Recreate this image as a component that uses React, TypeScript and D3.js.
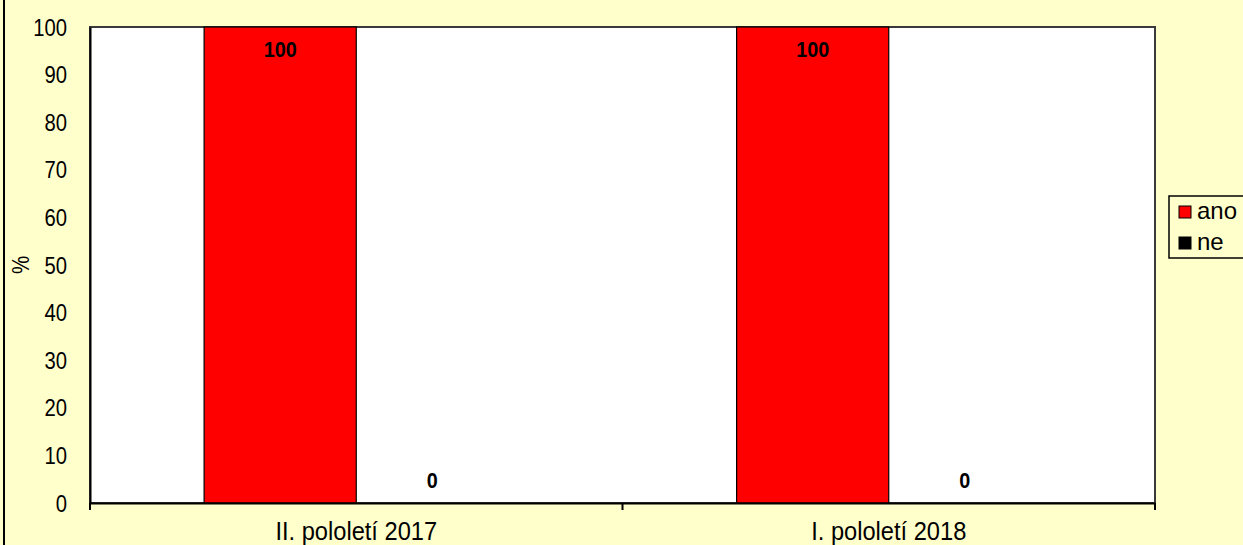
import React, { useEffect, useRef } from 'react';
import * as d3 from 'd3';

const WIDTH = 1243;
const HEIGHT = 545;

const categories = ['II. pololetí 2017', 'I. pololetí 2018'];
const seriesNames = ['ano', 'ne'];
const seriesColors = ['#FF0000', '#000000'];
const anoValues = [100, 100];
const neValues = [0, 0];
const yTicks = [0, 10, 20, 30, 40, 50, 60, 70, 80, 90, 100];

const App = () => {
  const ref = useRef<SVGSVGElement>(null);

  useEffect(() => {
    const svg = d3.select(ref.current);
    svg.selectAll('*').remove();

    const font = 'Arial, "Liberation Sans", sans-serif';
    const plot = { left: 90, top: 27, right: 1155, bottom: 503 };

    // background + outer chart border (only the left edge is in view)
    svg.append('rect').attr('width', WIDTH).attr('height', HEIGHT).attr('fill', '#FFFFCC');
    svg.append('rect')
      .attr('x', 4).attr('y', -60).attr('width', 1400).attr('height', 700)
      .attr('fill', 'none').attr('stroke', '#000').attr('stroke-width', 2);

    svg.append('rect')
      .attr('x', plot.left).attr('y', plot.top)
      .attr('width', plot.right - plot.left).attr('height', plot.bottom - plot.top)
      .attr('fill', '#fff').attr('stroke', '#3a3a3a').attr('stroke-width', 2);

    const x0 = d3.scaleBand().domain(categories).range([plot.left, plot.right]).padding(0);
    const x1 = d3.scaleBand().domain(seriesNames).range([0, x0.bandwidth()])
      .paddingOuter(0.75).paddingInner(0);
    const y = d3.scaleLinear().domain([0, 100]).range([plot.bottom, plot.top]);

    const rows = categories.map((c, i) => ({ cat: c, values: [anoValues[i], neValues[i]] }));

    const groups = svg.selectAll('.grp').data(rows).enter().append('g')
      .attr('transform', (d) => `translate(${x0(d.cat)},0)`);

    groups.selectAll('rect').data((d) => d.values.map((v, j) => ({ v, j }))).enter()
      .append('rect')
      .attr('x', (d) => x1(seriesNames[d.j])!)
      .attr('y', (d) => y(d.v))
      .attr('width', x1.bandwidth())
      .attr('height', (d) => plot.bottom - y(d.v))
      .attr('fill', (d) => seriesColors[d.j])
      .attr('stroke', '#000').attr('stroke-width', 1.2);

    // the original text is a bit narrow for its height
    const sxVal = 0.9;
    groups.selectAll('text').data((d) => d.values.map((v, j) => ({ v, j }))).enter()
      .append('text')
      .attr('transform', `scale(${sxVal},1)`)
      .attr('x', (d) => (x1(seriesNames[d.j])! + x1.bandwidth() / 2) / sxVal)
      .attr('y', (d) => (d.v > 0 ? y(d.v) + 30 : y(d.v) - 15))
      .attr('text-anchor', 'middle')
      .attr('font-family', font).attr('font-size', 22).attr('font-weight', 'bold')
      .attr('fill', '#000')
      .text((d) => d.v);

    // y axis
    const sxY = 0.88;
    const yAxis = svg.append('g').attr('transform', `translate(${plot.left},0)`)
      .call(d3.axisLeft(y).tickValues(yTicks).tickSize(0).tickPadding(23 / sxY));
    yAxis.select('.domain').attr('stroke', '#000').attr('stroke-width', 2);
    yAxis.selectAll('text').attr('font-family', font).attr('font-size', 23).attr('fill', '#000')
      .attr('dy', '0.35em').attr('transform', `scale(${sxY},1)`);

    // x axis
    const xAxis = svg.append('g').attr('transform', `translate(0,${plot.bottom})`)
      .call(d3.axisBottom(x0).tickSize(0).tickPadding(19));
    xAxis.select('.domain').attr('stroke', '#000').attr('stroke-width', 2);
    xAxis.selectAll('text').attr('font-family', font).attr('font-size', 26).attr('fill', '#000')
      .attr('transform', 'scale(0.91,1)');
    const bounds = [plot.left, ...categories.map((c) => x0(c)! + x0.bandwidth())];
    xAxis.selectAll('.sep').data(bounds).enter().append('line')
      .attr('x1', (d) => d).attr('x2', (d) => d).attr('y1', 0).attr('y2', 7)
      .attr('stroke', '#000').attr('stroke-width', 2);

    svg.append('text')
      .attr('transform', `translate(29,${(plot.top + plot.bottom) / 2}) rotate(-90) scale(0.85,1)`)
      .attr('text-anchor', 'middle')
      .attr('font-family', font).attr('font-size', 24).attr('fill', '#000')
      .text('%');

    // legend
    const lg = svg.append('g').attr('transform', 'translate(1169,196)');
    lg.append('rect').attr('width', 90).attr('height', 62)
      .attr('fill', '#FFFFCC').attr('stroke', '#000').attr('stroke-width', 1.5);
    seriesNames.forEach((s, i) => {
      lg.append('rect').attr('x', 10).attr('y', 10 + i * 31).attr('width', 12).attr('height', 12)
        .attr('fill', seriesColors[i]).attr('stroke', '#000').attr('stroke-width', 1);
      lg.append('text').attr('x', 28).attr('y', 23 + i * 31)
        .attr('font-family', font).attr('font-size', 24).attr('fill', '#000').text(s);
    });
  }, []);

  return (
    <svg
      ref={ref}
      width={WIDTH}
      height={HEIGHT}
      style={{ position: 'absolute', left: 0, top: 0 }}
    ></svg>
  );
};

export default App;
